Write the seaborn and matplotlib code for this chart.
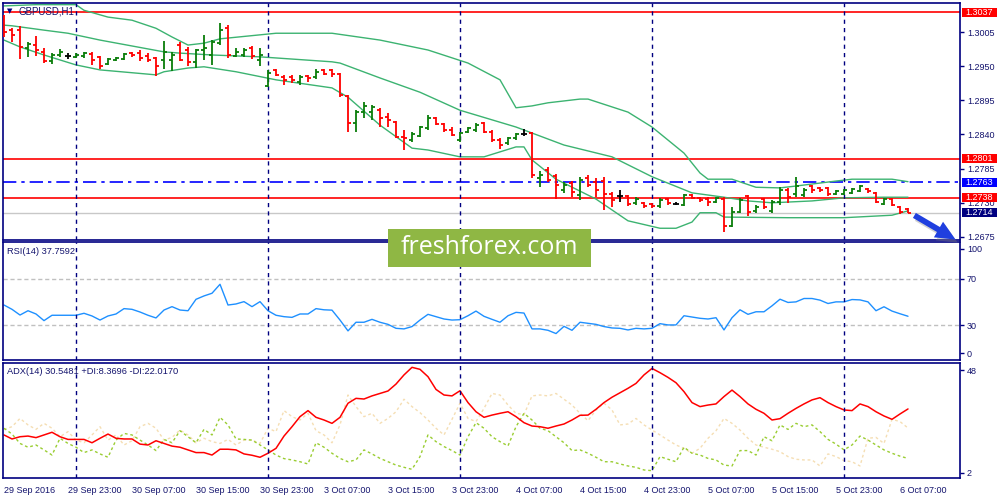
import numpy as np
import pandas as pd
import seaborn as sns
import matplotlib
matplotlib.use("Agg")
import matplotlib.pyplot as plt
import matplotlib.transforms as mtransforms
from matplotlib.patches import Rectangle, FancyArrowPatch

# GBPUSD H1 bars, 29 Sep 15:00 .. 6 Oct 08:00
opens = [1.3029, 1.3008, 1.3008, 1.2979, 1.2984, 1.2973, 1.2958, 1.2968, 1.2966, 1.2965,
         1.2966, 1.2970, 1.2965, 1.2953, 1.2960, 1.2962, 1.2971, 1.2971, 1.2966, 1.2963,
         1.2960, 1.2960, 1.2984, 1.2976, 1.2957, 1.2976, 1.2968, 1.2987, 1.3011, 1.2966,
         1.2968, 1.2979, 1.2960, 1.2918, 1.2944, 1.2933, 1.2933, 1.2925, 1.2934, 1.2933,
         1.2944, 1.2944, 1.2937, 1.2902, 1.2859, 1.2876, 1.2876, 1.2879, 1.2868, 1.2860,
         1.2836, 1.2831, 1.2838, 1.2851, 1.2867, 1.2857, 1.2847, 1.2831, 1.2844, 1.2847,
         1.2859, 1.2844, 1.2831, 1.2826, 1.2834, 1.2841, 1.2842, 1.2770, 1.2783, 1.2773,
         1.2751, 1.2762, 1.2743, 1.2770, 1.2764, 1.2765, 1.2744, 1.2741, 1.2741, 1.2730,
         1.2730, 1.2728, 1.2725, 1.2736, 1.2728, 1.2727, 1.2743, 1.2738, 1.2736, 1.2731,
         1.2736, 1.2693, 1.2715, 1.2741, 1.2717, 1.2736, 1.2717, 1.2731, 1.2751, 1.2744,
         1.2743, 1.2757, 1.2754, 1.2754, 1.2744, 1.2744, 1.2746, 1.2749, 1.2752, 1.2746,
         1.2728, 1.2736, 1.2723, 1.2720]
highs = [1.3032, 1.3011, 1.3015, 1.2989, 1.2999, 1.2979, 1.2971, 1.2978, 1.2971, 1.2971,
         1.2973, 1.2973, 1.2966, 1.2963, 1.2965, 1.2971, 1.2973, 1.2976, 1.2971, 1.2965,
         1.2990, 1.2973, 1.2989, 1.2981, 1.2978, 1.3000, 1.2992, 1.3019, 1.3016, 1.2979,
         1.2979, 1.2982, 1.2979, 1.2944, 1.2945, 1.2936, 1.2936, 1.2936, 1.2936, 1.2945,
         1.2945, 1.2945, 1.2939, 1.2904, 1.2879, 1.2892, 1.2887, 1.2883, 1.2875, 1.2862,
         1.2847, 1.2844, 1.2854, 1.2871, 1.2868, 1.2859, 1.2852, 1.2844, 1.2852, 1.2859,
         1.2860, 1.2847, 1.2834, 1.2836, 1.2842, 1.2849, 1.2844, 1.2781, 1.2788, 1.2777,
         1.2764, 1.2765, 1.2772, 1.2775, 1.2770, 1.2772, 1.2748, 1.2751, 1.2743, 1.2739,
         1.2731, 1.2730, 1.2738, 1.2738, 1.2731, 1.2744, 1.2744, 1.2739, 1.2739, 1.2739,
         1.2739, 1.2723, 1.2738, 1.2743, 1.2727, 1.2738, 1.2735, 1.2756, 1.2754, 1.2772,
         1.2754, 1.2759, 1.2756, 1.2756, 1.2751, 1.2752, 1.2754, 1.2759, 1.2754, 1.2748,
         1.2738, 1.2738, 1.2725, 1.2722]
lows = [1.2997, 1.2989, 1.2962, 1.2965, 1.2966, 1.2955, 1.2953, 1.2965, 1.2962, 1.2963,
        1.2963, 1.2952, 1.2945, 1.2952, 1.2958, 1.2960, 1.2965, 1.2958, 1.2957, 1.2934,
        1.2945, 1.2942, 1.2958, 1.2950, 1.2947, 1.2960, 1.2952, 1.2984, 1.2963, 1.2965,
        1.2965, 1.2962, 1.2950, 1.2916, 1.2934, 1.2920, 1.2923, 1.2920, 1.2925, 1.2929,
        1.2936, 1.2933, 1.2900, 1.2844, 1.2844, 1.2867, 1.2863, 1.2852, 1.2852, 1.2834,
        1.2815, 1.2828, 1.2836, 1.2847, 1.2855, 1.2844, 1.2838, 1.2828, 1.2842, 1.2844,
        1.2842, 1.2828, 1.2817, 1.2823, 1.2831, 1.2838, 1.2770, 1.2756, 1.2764, 1.2736,
        1.2746, 1.2739, 1.2735, 1.2756, 1.2739, 1.2719, 1.2723, 1.2731, 1.2725, 1.2727,
        1.2722, 1.2722, 1.2722, 1.2727, 1.2727, 1.2725, 1.2736, 1.2731, 1.2725, 1.2730,
        1.2683, 1.2691, 1.2714, 1.2709, 1.2714, 1.2720, 1.2714, 1.2727, 1.2730, 1.2739,
        1.2739, 1.2746, 1.2748, 1.2741, 1.2743, 1.2743, 1.2744, 1.2748, 1.2746, 1.2730,
        1.2727, 1.2725, 1.2712, 1.2714]
closes = [1.3005, 1.3000, 1.2981, 1.2986, 1.2976, 1.2958, 1.2968, 1.2973, 1.2966, 1.2968,
          1.2971, 1.2960, 1.2950, 1.2962, 1.2963, 1.2970, 1.2968, 1.2963, 1.2960, 1.2950,
          1.2973, 1.2968, 1.2960, 1.2957, 1.2976, 1.2979, 1.2989, 1.3008, 1.2968, 1.2973,
          1.2976, 1.2966, 1.2968, 1.2939, 1.2936, 1.2928, 1.2928, 1.2933, 1.2931, 1.2941,
          1.2937, 1.2937, 1.2904, 1.2859, 1.2876, 1.2886, 1.2884, 1.2867, 1.2863, 1.2836,
          1.2834, 1.2841, 1.2852, 1.2867, 1.2857, 1.2847, 1.2839, 1.2842, 1.2851, 1.2855,
          1.2844, 1.2831, 1.2823, 1.2834, 1.2841, 1.2841, 1.2775, 1.2775, 1.2767, 1.2759,
          1.2759, 1.2748, 1.2767, 1.2759, 1.2751, 1.2744, 1.2735, 1.2741, 1.2728, 1.2736,
          1.2725, 1.2725, 1.2735, 1.2730, 1.2728, 1.2743, 1.2738, 1.2735, 1.2731, 1.2738,
          1.2693, 1.2715, 1.2735, 1.2715, 1.2723, 1.2723, 1.2731, 1.2751, 1.2739, 1.2757,
          1.2751, 1.2751, 1.2751, 1.2744, 1.2749, 1.2751, 1.2752, 1.2757, 1.2749, 1.2731,
          1.2736, 1.2727, 1.2715, 1.2714]

# Bollinger bands (read at selected bars)
upper_idx = [0, 4, 9, 10, 13, 16, 19, 21, 23, 25, 27, 34, 41, 47, 53, 58, 62, 64, 66, 68,
             72, 73, 78, 81, 85, 87, 88, 91, 94, 97, 99, 104, 106, 111, 113]
upper = [1.3047, 1.3049, 1.3049, 1.3040, 1.3029, 1.3024, 1.3011, 1.2997, 1.2984, 1.2987,
         1.2994, 1.3003, 1.3003, 1.2992, 1.2976, 1.2955, 1.2928, 1.2883, 1.2886, 1.2891,
         1.2897, 1.2897, 1.2876, 1.2852, 1.2810, 1.2778, 1.2768, 1.2768, 1.2755, 1.2754,
         1.2757, 1.2765, 1.2768, 1.2768, 1.2764]
mid_idx = [0, 1, 5, 8, 12, 20, 22, 26, 32, 41, 42, 47, 52, 57, 64, 70, 76, 81, 86, 90,
           93, 96, 101, 105, 110, 113]
mid = [1.3016, 1.3015, 1.3008, 1.3003, 1.2992, 1.2973, 1.2971, 1.2968, 1.2965, 1.2957,
       1.2955, 1.2931, 1.2908, 1.2879, 1.2852, 1.2823, 1.2804, 1.2772, 1.2746, 1.2739,
       1.2733, 1.2730, 1.2733, 1.2738, 1.2739, 1.2739]
lower_idx = [0, 2, 5, 9, 12, 19, 20, 23, 25, 29, 34, 41, 43, 47, 51, 53, 57, 60, 64, 65,
             66, 69, 74, 78, 82, 84, 86, 87, 89, 90, 98, 105, 111, 113]
lower = [1.2992, 1.2981, 1.2968, 1.2952, 1.2944, 1.2936, 1.2941, 1.2947, 1.2949, 1.2941,
         1.2928, 1.2915, 1.2900, 1.2855, 1.2818, 1.2815, 1.2804, 1.2804, 1.2820, 1.2820,
         1.2799, 1.2768, 1.2736, 1.2701, 1.2689, 1.2689, 1.2699, 1.2714, 1.2714, 1.2707,
         1.2706, 1.2706, 1.2710, 1.2717]

rsi = [47.4, 43.7, 38.8, 42.5, 39.7, 34.0, 38.6, 38.6, 38.6, 38.6,
       40.3, 38.0, 34.5, 38.0, 39.7, 44.3, 43.7, 41.4, 38.6, 36.3,
       43.1, 46.0, 43.1, 42.5, 52.3, 55.2, 57.5, 65.2, 47.4, 48.3,
       50.3, 46.0, 50.3, 42.5, 38.6, 37.4, 36.8, 39.7, 39.7, 44.3,
       43.3, 43.0, 34.5, 25.2, 32.6, 32.6, 35.1, 32.6, 30.8, 27.4,
       26.9, 28.9, 34.5, 39.4, 37.4, 35.4, 34.5, 34.8, 38.2, 42.2,
       37.7, 35.1, 32.6, 38.2, 41.1, 40.5, 26.9, 26.9, 25.7, 22.9,
       29.1, 25.7, 32.6, 31.7, 30.8, 28.9, 27.7, 27.4, 26.0, 27.4,
       26.9, 27.4, 31.4, 30.3, 30.3, 38.2, 37.1, 36.0, 35.4, 36.5,
       26.0, 36.5, 43.3, 39.4, 41.6, 41.6, 46.7, 52.4, 49.6, 50.1,
       53.0, 53.0, 51.6, 48.7, 50.1, 50.1, 52.1, 51.8, 50.1, 42.5,
       45.9, 42.2, 39.9, 37.76]

adx = [18.9, 17.1, 18.1, 18.4, 17.7, 18.9, 20.1, 18.1, 16.9, 16.9,
       16.9, 15.4, 17.4, 19.3, 17.4, 17.1, 17.1, 14.8, 14.4, 16.3,
       15.1, 13.9, 13.4, 12.2, 11.0, 11.0, 9.9, 12.5, 12.5, 12.2,
       10.4, 9.8, 8.9, 10.7, 12.9, 18.4, 22.6, 27.1, 29.8, 26.8,
       25.6, 24.1, 26.8, 33.1, 35.3, 35.0, 36.4, 37.5, 38.6, 41.7,
       45.8, 49.2, 48.3, 45.0, 39.3, 36.8, 36.4, 38.7, 33.4, 29.3,
       26.8, 27.8, 28.6, 29.3, 27.1, 24.4, 22.9, 22.6, 21.9, 22.9,
       23.8, 25.6, 27.7, 27.8, 30.4, 33.4, 35.8, 37.8, 39.8, 42.0,
       45.8, 48.7, 46.8, 44.7, 42.3, 38.3, 33.4, 31.6, 32.3, 32.8,
       36.1, 39.0, 36.1, 32.8, 30.4, 28.6, 25.6, 26.2, 28.6, 30.8,
       32.8, 34.6, 35.6, 33.4, 31.6, 30.1, 29.8, 32.8, 31.6, 29.3,
       27.4, 25.9, 28.3, 30.55]
plus_di = [21.9, 19.3, 15.1, 13.4, 14.4, 12.2, 9.9, 17.4, 15.1, 13.4,
           11.0, 12.2, 10.4, 8.9, 16.6, 19.6, 18.9, 16.6, 14.4, 11.9,
           16.9, 15.4, 20.8, 18.1, 15.4, 21.4, 18.9, 26.8, 23.4, 17.1,
           16.9, 16.6, 14.4, 12.2, 9.9, 8.3, 7.7, 6.9, 5.9, 15.4,
           13.4, 10.7, 8.4, 6.9, 7.7, 12.2, 10.4, 8.4, 6.9, 5.4,
           4.4, 3.5, 9.2, 18.9, 15.9, 13.7, 11.9, 9.9, 18.1, 24.4,
           21.9, 18.1, 15.9, 14.0, 22.6, 28.6, 25.6, 21.9, 20.8, 18.1,
           15.4, 11.9, 12.2, 10.7, 8.9, 6.9, 6.9, 5.9, 5.0, 4.4,
           3.2, 2.9, 9.2, 8.0, 6.9, 13.4, 10.7, 9.9, 8.4, 7.7,
           5.4, 5.0, 11.9, 11.9, 9.9, 18.1, 16.3, 23.4, 21.4, 24.1,
           22.6, 23.4, 20.4, 16.9, 14.8, 12.2, 14.4, 18.4, 16.6, 14.4,
           12.2, 10.7, 9.4, 8.37]
minus_di = [21.4, 22.6, 26.3, 23.4, 21.4, 24.1, 21.9, 18.1, 20.4, 16.6,
            15.4, 18.9, 22.6, 16.6, 18.9, 14.4, 16.3, 22.6, 24.1, 21.9,
            16.6, 17.8, 21.1, 18.9, 15.4, 17.4, 15.9, 15.1, 16.9, 14.4,
            16.6, 16.6, 15.1, 21.9, 20.4, 29.8, 27.1, 25.6, 28.6, 20.8,
            18.9, 15.4, 23.4, 36.8, 31.6, 27.1, 28.6, 24.1, 26.3, 29.3,
            34.9, 31.6, 28.9, 25.6, 21.9, 18.9, 25.9, 33.1, 26.3, 24.9,
            30.8, 37.5, 36.8, 32.3, 28.6, 28.0, 36.4, 36.8, 36.4, 37.5,
            34.9, 32.3, 28.6, 25.3, 30.1, 33.1, 30.1, 23.4, 23.8, 26.3,
            23.4, 21.1, 18.9, 16.6, 14.4, 12.9, 10.7, 12.9, 17.4, 20.8,
            26.3, 24.1, 21.1, 17.4, 14.4, 13.4, 12.5, 11.4, 9.2, 8.0,
            7.7, 7.7, 5.0, 10.4, 9.2, 7.4, 6.9, 5.0, 17.4, 17.8,
            15.1, 25.9, 24.9, 22.0]

time_labels = ['29 Sep 2016', '29 Sep 23:00', '30 Sep 07:00', '30 Sep 15:00', '30 Sep 23:00',
               '3 Oct 07:00', '3 Oct 15:00', '3 Oct 23:00', '4 Oct 07:00', '4 Oct 15:00',
               '4 Oct 23:00', '5 Oct 07:00', '5 Oct 15:00', '5 Oct 23:00', '6 Oct 07:00']
day_starts = [9, 33, 57, 81, 105]
price_ticks = [1.3005, 1.2950, 1.2895, 1.2840, 1.2785, 1.2730, 1.2675]
# horizontal levels: (price, colour)
red_levels = [1.3037, 1.2801, 1.2738]
blue_level = 1.2763
bid = 1.2714

sns.set_style("white")
plt.rcParams['font.family'] = ['Liberation Sans', 'DejaVu Sans']

NAVY = '#000080'
TXT = '#14146e'
GREEN = '#0a7d0a'
RED = '#ff0000'
BAND = '#3cb371'

bars = pd.DataFrame({'o': opens, 'h': highs, 'l': lows, 'c': closes})
bars['i'] = np.arange(len(bars))
bars['col'] = np.where(bars.c > bars.o, GREEN, np.where(bars.c < bars.o, RED, 'black'))

fig = plt.figure(figsize=(10, 5), dpi=100)
ax1 = fig.add_axes([0.003, 0.52, 0.957, 0.474])
ax2 = fig.add_axes([0.003, 0.28, 0.957, 0.236])
ax3 = fig.add_axes([0.003, 0.044, 0.957, 0.230])

# --- price panel
for lv in red_levels:
    ax1.axhline(lv, color=RED, lw=1.2, zorder=1)
ax1.axhline(blue_level, color='#0000ff', lw=1.2, ls=(0, (8, 3, 2, 3)), zorder=1)
ax1.axhline(bid, color='#c8c8c8', lw=1, zorder=1)

sns.lineplot(x=upper_idx, y=upper, ax=ax1, color=BAND, lw=1)
sns.lineplot(x=mid_idx, y=mid, ax=ax1, color=BAND, lw=1)
sns.lineplot(x=lower_idx, y=lower, ax=ax1, color=BAND, lw=1)

ax1.vlines(bars.i, bars.l, bars.h, colors=bars.col, lw=1.3, zorder=3)
ax1.hlines(bars.o, bars.i - 0.38, bars.i, colors=bars.col, lw=1.3, zorder=3)
ax1.hlines(bars.c, bars.i, bars.i + 0.38, colors=bars.col, lw=1.3, zorder=3)

ax1.set_ylim(1.26701, 1.30517)
ax1.set_yticks(price_ticks, [f'{v:.4f}' for v in price_ticks])

# --- RSI panel
ax2.axhline(70, color='#c0c0c0', lw=1, ls=(0, (3, 2)))
ax2.axhline(30, color='#c0c0c0', lw=1, ls=(0, (3, 2)))
sns.lineplot(x=bars.i, y=rsi, ax=ax2, color='#1e90ff', lw=1)
ax2.set_ylim(0.2, 101.5)
ax2.set_yticks([6.2, 30, 70, 95.5], ['0', '30', '70', '100'])

# --- ADX panel
sns.lineplot(x=bars.i, y=minus_di, ax=ax3, color='#f5deb3', lw=1, linestyle=(0, (2, 2)))
sns.lineplot(x=bars.i, y=plus_di, ax=ax3, color='#9acd32', lw=1, linestyle=(0, (2, 2)))
sns.lineplot(x=bars.i, y=adx, ax=ax3, color=RED, lw=1.1)
ax3.set_ylim(-0.39, 51.14)
ax3.set_yticks([48, 2], ['48', '2'])

for ax in (ax1, ax2, ax3):
    ax.set_xlim(-0.125, 119.5)
    ax.set_xlabel('')
    ax.set_ylabel('')
    for s in day_starts:
        ax.axvline(s, color=NAVY, lw=1, ls=(0, (3, 3)), zorder=2)
    for sp in ax.spines.values():
        sp.set_color(NAVY)
        sp.set_linewidth(1.2)
    ax.yaxis.tick_right()
    ax.tick_params(axis='y', direction='out', length=3, width=1, colors=NAVY,
                   labelcolor=TXT, labelsize=6.5, pad=2)
    ax.set_facecolor('white')

for ax in (ax1, ax2):
    ax.tick_params(axis='x', bottom=False, labelbottom=False)

ax3.set_xticks(range(0, 8 * len(time_labels), 8), time_labels)
ax3.tick_params(axis='x', direction='out', length=4, width=1, colors=NAVY,
                labelcolor=TXT, labelsize=6.5, pad=2)
plt.setp(ax3.get_xticklabels(), ha='left')

# coloured price labels on the right
trans = mtransforms.blended_transform_factory(ax1.transAxes, ax1.transData)
box_h = 0.00145
for lv, fc in [(1.3037, RED), (1.2801, RED), (1.2763, '#0000ff'), (1.2738, RED), (1.2714, NAVY)]:
    ax1.add_patch(Rectangle((1.0021, lv - box_h / 2), 0.0366, box_h, transform=trans,
                            fc=fc, ec='none', clip_on=False, zorder=6))
    ax1.text(1.0204, lv, f'{lv:.4f}', transform=trans, ha='center', va='center',
             color='white', fontsize=6.5, zorder=7, clip_on=False)

# panel captions
ax1.text(0.0068, 0.966, '\u25bc', transform=ax1.transAxes, ha='center', va='center',
         fontsize=5, color=NAVY, family='DejaVu Sans')
ax1.text(0.0157, 0.966, 'GBPUSD,H1', transform=ax1.transAxes, ha='left', va='center',
         fontsize=7, color=TXT)
ax2.text(0.004, 0.918, 'RSI(14) 37.7592', transform=ax2.transAxes, ha='left', va='center',
         fontsize=6.7, color=TXT)
ax3.text(0.004, 0.924, 'ADX(14) 30.5481 +DI:8.3696 -DI:22.0170', transform=ax3.transAxes,
         ha='left', va='center', fontsize=6.7, color=TXT)

# watermark
fig.add_artist(Rectangle((0.388, 1 - 267 / 500), 0.203, 38 / 500, transform=fig.transFigure,
                         fc='#8fb744', ec='none', zorder=20))
fig.text(0.4895, 1 - 248 / 500, 'freshforex.com', ha='center', va='center', color='white',
         fontsize=18, family='Open Sans', zorder=21)

# trend arrow with a soft shadow
for dx, dy, fc, al, z in [(0.002, -0.006, '#808080', 0.35, 18), (0, 0, '#1f3fdf', 1, 19)]:
    fig.add_artist(FancyArrowPatch((0.912 + dx, 1 - 214 / 500 + dy), (0.958 + dx, 1 - 241 / 500 + dy),
                                   transform=fig.transFigure,
                                   arrowstyle='simple,head_length=1.1,head_width=1.0,tail_width=0.32',
                                   mutation_scale=13, fc=fc, ec='none', alpha=al, zorder=z))

fig.savefig('out.png', dpi=100, facecolor='white')
